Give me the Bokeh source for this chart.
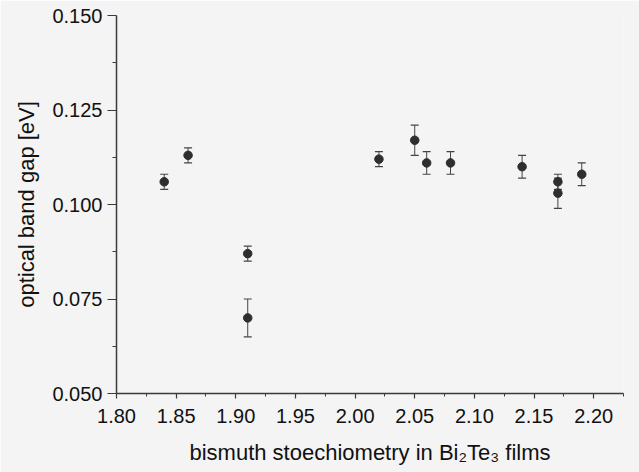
from bokeh.plotting import figure
from bokeh.models import (Range1d, FixedTicker, NumeralTickFormatter, ColumnDataSource,
                          Whisker, TeeHead)
from bokeh.embed import file_html
from bokeh.resources import INLINE

# ---- data ----
stoich = [1.84, 1.86, 1.91, 1.91, 2.02, 2.05, 2.06, 2.08, 2.14, 2.17, 2.17, 2.19]
gap = [0.106, 0.113, 0.087, 0.070, 0.112, 0.117, 0.111, 0.111, 0.110, 0.106, 0.103, 0.108]
gap_err = [0.002, 0.002, 0.002, 0.005, 0.002, 0.004, 0.003, 0.003, 0.003, 0.002, 0.004, 0.003]

x_ticks = [1.80, 1.85, 1.90, 1.95, 2.00, 2.05, 2.10, 2.15, 2.20]
x_minor = [1.825, 1.875, 1.925, 1.975, 2.025, 2.075, 2.125, 2.175, 2.225]
y_ticks = [0.050, 0.075, 0.100, 0.125, 0.150]
y_minor = [0.0625, 0.0875, 0.1125, 0.1375]

x_label = "bismuth stoechiometry in Bi\u2082Te\u2083 films"
y_label = "optical band gap [eV]"

BG = "#f4f4f4"
FONT = "Liberation Sans"

p = figure(width=639, height=472, output_backend="svg", toolbar_location=None,
           x_range=Range1d(1.80, 2.225), y_range=Range1d(0.050, 0.150),
           min_border_left=116, min_border_right=16, min_border_top=15, min_border_bottom=79,
           background_fill_color=BG, border_fill_color=BG, outline_line_color=None)
p.grid.visible = False

src = ColumnDataSource(dict(x=stoich, y=gap,
                            lo=[g - e for g, e in zip(gap, gap_err)],
                            hi=[g + e for g, e in zip(gap, gap_err)]))

w = Whisker(base="x", lower="lo", upper="hi", source=src, dimension="height",
            line_color="#444444", line_width=1,
            upper_head=TeeHead(size=8, line_color="#444444", line_width=1.2),
            lower_head=TeeHead(size=8, line_color="#444444", line_width=1.2))
p.add_layout(w)
p.scatter("x", "y", source=src, size=8.5, fill_color="#2e2e2e", line_color="#2e2e2e")

# axes
for ax in (p.xaxis[0], p.yaxis[0]):
    ax.axis_line_color = "#3a3a3a"
    ax.axis_line_width = 1.5
    ax.major_tick_line_color = "#3a3a3a"
    ax.minor_tick_line_color = "#3a3a3a"
    ax.major_tick_line_width = 1.2
    ax.minor_tick_line_width = 1
    ax.major_label_text_font = FONT
    ax.major_label_text_font_size = "20px"
    ax.major_label_text_color = "#111111"
    ax.axis_label_text_font = FONT
    ax.axis_label_text_font_size = "22px"
    ax.axis_label_text_font_style = "normal"
    ax.axis_label_text_color = "#111111"

p.xaxis.ticker = FixedTicker(ticks=x_ticks, minor_ticks=x_minor)
p.xaxis.formatter = NumeralTickFormatter(format="0.00")
p.xaxis.major_tick_in = 0
p.xaxis.major_tick_out = 5
p.xaxis.minor_tick_in = 0
p.xaxis.minor_tick_out = 3
p.xaxis.major_label_standoff = 10
p.xaxis.axis_label = x_label
p.xaxis.axis_label_standoff = 14

p.yaxis.ticker = FixedTicker(ticks=y_ticks, minor_ticks=y_minor)
p.yaxis.formatter = NumeralTickFormatter(format="0.000")
p.yaxis.major_tick_in = 0
p.yaxis.major_tick_out = 9
p.yaxis.minor_tick_in = 0
p.yaxis.minor_tick_out = 4
p.yaxis.major_label_standoff = 5
p.yaxis.axis_label = y_label
p.yaxis.axis_label_standoff = 10

open("out.html", "w").write(file_html(p, INLINE))
